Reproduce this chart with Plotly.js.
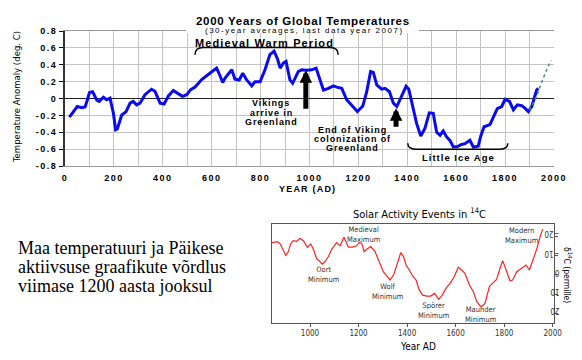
<!DOCTYPE html>
<html>
<head>
<meta charset="utf-8">
<script src="https://cdn.plot.ly/plotly-3.0.1.min.js"></script>
<style>
  html, body { margin: 0; padding: 0; background: #fff; }
  #chart { width: 582px; height: 360px; }
  .xtick text, .ytick text { letter-spacing: 1.5px; }
</style>
</head>
<body>
<div id="chart"></div>
<script>
// ---- Data: 2000 years of global temperatures (30-year averages) ----
const tempYears = [18,34,50,68,82,91,100,113,130,140,157,170,184,198,207,214,232,250,266,279,293,307,327,354,368,389,405,423,443,464,481,498,514,532,545,559,586,600,620,634,645,654,675,682,695,713,727,743,764,777,798,818,838,855,869,880,893,904,920,931,954,968,988,1009,1027,1043,1057,1077,1098,1111,1132,1152,1177,1196,1218,1234,1250,1261,1275,1295,1309,1327,1343,1357,1373,1395,1406,1422,1438,1455,1472,1490,1506,1520,1534,1547,1561,1575,1588,1605,1622,1636,1656,1670,1690,1701,1714,1738,1752,1768,1786,1800,1818,1834,1850,1868,1881,1895,1909,1918,1929,1936];
const tempAnomaly = [-0.22,-0.155,-0.095,-0.11,-0.10,-0.02,0.07,0.08,-0.02,-0.035,0.015,-0.015,0.005,-0.175,-0.37,-0.36,-0.195,-0.155,-0.055,-0.035,-0.075,-0.055,0.045,0.11,0.085,-0.055,-0.065,0.03,0.095,0.055,0.025,0.045,0.105,0.135,0.18,0.225,0.285,0.32,0.36,0.27,0.19,0.24,0.32,0.34,0.23,0.22,0.30,0.22,0.15,0.20,0.20,0.34,0.52,0.56,0.47,0.36,0.42,0.44,0.22,0.18,0.32,0.34,0.335,0.34,0.36,0.22,0.10,0.12,0.15,0.135,0.12,-0.015,-0.095,-0.155,-0.09,0.08,0.32,0.31,0.16,0.11,0.12,0.08,-0.055,-0.095,0.005,0.145,0.11,-0.095,-0.295,-0.445,-0.355,-0.17,-0.175,-0.40,-0.435,-0.385,-0.455,-0.50,-0.575,-0.57,-0.545,-0.535,-0.495,-0.575,-0.565,-0.44,-0.335,-0.31,-0.215,-0.12,-0.095,-0.01,-0.035,-0.135,-0.075,-0.085,-0.115,-0.155,-0.095,0.005,0.10,0.12];
// recent instrumental-era extension (dotted)
const recentYears = [1900,1915,1930,1945,1962,1977,1990];
const recentAnomaly = [-0.14,-0.06,0.03,0.16,0.29,0.39,0.45];

const tempYTicks = [0.8,0.6,0.4,0.2,0,-0.2,-0.4,-0.6,-0.8];
const tempYTickText = ['0.8','0.6','0.4','0.2','0','-0.2','-0.4','-0.6','-0.8'];
const tempXTicks = [0,200,400,600,800,1000,1200,1400,1600,1800,2000];

// ---- Data: Solar activity events in 14C ----
const solarYears = [842,865,876,890,900,911,920,931,945,959,973,989,1003,1014,1027,1041,1051,1062,1076,1089,1110,1124,1140,1158,1176,1192,1203,1213,1223,1234,1250,1268,1282,1302,1316,1330,1346,1364,1374,1385,1396,1409,1423,1437,1450,1464,1481,1497,1514,1530,1542,1560,1577,1593,1611,1625,1638,1657,1673,1687,1705,1721,1739,1755,1769,1783,1794,1808,1824,1835,1852,1872,1890,1904,1920,1934,1948,1959];
const solarD14C = [-16.9,-17.4,-16.5,-13.1,-10.3,-12.2,-16.2,-17.9,-17.6,-19.0,-17.9,-14.5,-16.2,-13.4,-8.7,-7.0,-5.7,-7.0,-9.6,-13.4,-16.9,-15.2,-19.7,-14.5,-14.5,-15.2,-16.9,-16.6,-12.2,-13.4,-14.8,-12.2,-7.8,-1.7,0.5,2.6,-0.5,-7.8,-11.7,-9.6,-5.2,-2.6,0.5,2.6,7.8,10.5,11.0,11.0,9.6,12.7,11.0,7.0,4.4,1.2,-4.0,-2.6,-0.9,5.2,8.7,13.9,16.6,14.8,6.1,4.0,2.3,-3.5,-7.5,-2.6,3.0,2.6,-1.7,-3.5,-5.2,-2.6,-7.8,-13.4,-20.0,-23.9];
const solarYTicks = [-20,-10,0,10,20];
const solarXTicks = [1000,1200,1400,1600,1800,2000];
const solarEvents = ['Medieval<br>Maximum','Oort<br>Minimum','Wolf<br>Minimum','Spörer<br>Minimum','Maunder<br>Minimum','Modern<br>Maximum'];

// caption lines (Estonian)
const captionLines = ['Maa temperatuuri ja Päikese', 'aktiivsuse graafikute võrdlus', 'viimase 1200 aasta jooksul'];

// ---- layout helpers (pixel -> paper) ----
const W = 582, H = 360;
const px = v => v / W;
const py = v => 1 - v / H;

const bold = 'Liberation Sans';
const narrow = 'DejaVu Sans Condensed';
const serif = 'Liberation Serif';
const sp = (t, s) => '<span style="letter-spacing:' + s + 'px">' + t + '</span>';

const traces = [
  { x: tempYears, y: tempAnomaly, type: 'scatter', mode: 'lines', xaxis: 'x', yaxis: 'y',
    line: { color: '#0a0af0', width: 3 }, hoverinfo: 'skip' },
  { x: recentYears, y: recentAnomaly, type: 'scatter', mode: 'lines', xaxis: 'x', yaxis: 'y',
    line: { color: '#3f8f7f', width: 1.5, dash: 'dot' }, hoverinfo: 'skip' },
  { x: solarYears, y: solarD14C, type: 'scatter', mode: 'lines', xaxis: 'x2', yaxis: 'y2',
    line: { color: '#ff2020', width: 1.2 }, hoverinfo: 'skip' }
];

const annFontB = (s) => ({ family: bold, size: s, color: '#000', weight: 'bold' });
const txt = (text, x, y, font, extra) => Object.assign({
  text: text, xref: 'paper', yref: 'paper', x: px(x), y: py(y),
  xanchor: 'center', yanchor: 'middle', showarrow: false, font: font
}, extra || {});
const capFont = { family: serif, size: 18, color: '#000' };

const annotations = [
  txt(sp('2000 Years of Global Temperatures', 0.7), 303, 20.5, annFontB(11.5)),
  txt(sp('(30-year averages, last data year 2007)', 1.5), 304, 30.5, { family: bold, size: 8, color: '#000' }),
  txt(sp('Medieval Warm Period', 1.1), 264, 42.5, annFontB(11)),
  txt(sp('Vikings', 0.9), 271, 103.5, annFontB(9)),
  txt(sp('arrive in', 0.9), 271, 112.5, annFontB(9)),
  txt(sp('Greenland', 0.9), 271, 121.5, annFontB(9)),
  txt(sp('End of Viking', 0.9), 352, 129.5, annFontB(9)),
  txt(sp('colonization of', 0.9), 352, 138.5, annFontB(9)),
  txt(sp('Greenland', 0.9), 352, 147.5, annFontB(9)),
  txt(sp('Little Ice Age', 1.0), 458, 157.5, annFontB(9.5)),
  txt(sp('YEAR (AD)', 1.2), 307, 189, annFontB(9)),
  txt('Temperature Anomaly (deg. C)', 17, 97, { family: narrow, size: 9.5, color: '#000' }, { textangle: -90 }),
  // arrows
  { xref: 'x', yref: 'y', x: 985, y: 0.335, ax: 0, ay: 40, text: '', showarrow: true,
    arrowhead: 2, arrowsize: 0.5, arrowwidth: 5, arrowcolor: '#000' },
  { xref: 'x', yref: 'y', x: 1354, y: -0.115, ax: 0, ay: 20, text: '', showarrow: true,
    arrowhead: 2, arrowsize: 0.5, arrowwidth: 5, arrowcolor: '#000' },
  // left caption
  txt(captionLines[0], 16, 248, capFont, { xanchor: 'left' }),
  txt(captionLines[1], 16, 267, capFont, { xanchor: 'left' }),
  txt(captionLines[2], 16, 286, capFont, { xanchor: 'left' }),
  // solar chart texts
  txt('Solar Activity Events in <sup>14</sup>C', 419, 213, { family: narrow, size: 11, color: '#000' }),
  txt('Year AD', 418, 346, { family: narrow, size: 10, color: '#000' }),
  txt('δ<sup>14</sup>C (permille)', 568, 275, { family: narrow, size: 8.5, color: '#000' }, { textangle: 90 }),
  txt(solarEvents[0], 363, 234.5, { family: narrow, size: 7.5, color: '#333' }),
  txt(solarEvents[1], 323, 274, { family: narrow, size: 7.5, color: '#333' }),
  txt(solarEvents[2], 387, 291, { family: narrow, size: 7.5, color: '#333' }),
  txt(solarEvents[3], 433, 310.5, { family: narrow, size: 7.5, color: '#333' }),
  txt(solarEvents[4], 480, 314.5, { family: narrow, size: 7.5, color: '#333' }),
  txt(solarEvents[5], 521, 235.5, { family: narrow, size: 7.5, color: '#333' })
];

const shapes = [
  // white box behind title
  { type: 'rect', xref: 'paper', yref: 'paper', x0: px(186), x1: px(419), y0: py(33), y1: py(12),
    fillcolor: '#fff', line: { width: 0 }, layer: 'above' },
  // Medieval Warm Period bracket
  { type: 'path', xref: 'x', yref: 'y', layer: 'above',
    path: 'M532,0.52 Q532,0.605 565,0.605 L1085,0.605 Q1117,0.605 1117,0.52',
    line: { color: '#000', width: 1.5 } },
  // Little Ice Age bracket
  { type: 'path', xref: 'x', yref: 'y', layer: 'above',
    path: 'M1402,-0.53 Q1402,-0.60 1435,-0.60 L1780,-0.60 Q1811,-0.60 1811,-0.53',
    line: { color: '#000', width: 1.5 } }
];

const layout = {
  width: W, height: H,
  margin: { l: 0, r: 0, t: 0, b: 0 },
  paper_bgcolor: '#fff', plot_bgcolor: '#fff',
  showlegend: false,
  xaxis: {
    domain: [px(65), px(554)], anchor: 'y', range: [0, 2000],
    tickvals: tempXTicks, ticks: '', showgrid: true, gridcolor: '#c4c4c4', gridwidth: 1,
    minor: { dtick: 100, tick0: 0, showgrid: true, gridcolor: '#c4c4c4', gridwidth: 1 },
    showline: true, linecolor: '#9a9a9a', linewidth: 1, mirror: true, zeroline: false,
    tickfont: { family: bold, size: 9, color: '#000', weight: 'bold' }, ticklabelstandoff: 3
  },
  yaxis: {
    domain: [py(166), py(31)], anchor: 'x', range: [-0.8, 0.8],
    tickvals: tempYTicks, ticktext: tempYTickText,
    ticks: 'outside', ticklen: 4, tickcolor: '#000', showgrid: true, gridcolor: '#c4c4c4', gridwidth: 1,
    showline: true, linecolor: '#333', linewidth: 2, zeroline: true, zerolinecolor: '#222', zerolinewidth: 1.5,
    tickfont: { family: bold, size: 9, color: '#000', weight: 'bold' }
  },
  xaxis2: {
    domain: [px(272), px(554)], anchor: 'y2', range: [843.4, 2005.4],
    tickvals: solarXTicks, ticks: 'outside', ticklen: 3, tickcolor: '#555',
    showgrid: false, zeroline: false, showline: true, linecolor: '#555', linewidth: 1, mirror: true,
    tickfont: { family: narrow, size: 8, color: '#333' }
  },
  yaxis2: {
    domain: [py(322.7), py(224)], anchor: 'x2', side: 'right', range: [24.9, -26.6],
    tickvals: solarYTicks, ticks: 'outside', ticklen: 3, tickcolor: '#555', tickangle: 180,
    showgrid: false, zeroline: false, showline: true, linecolor: '#555', linewidth: 1, mirror: true,
    tickfont: { family: narrow, size: 8, color: '#333' }
  },
  annotations: annotations,
  shapes: shapes
};

Plotly.newPlot('chart', traces, layout, { staticPlot: true, displayModeBar: false });
</script>
</body>
</html>
